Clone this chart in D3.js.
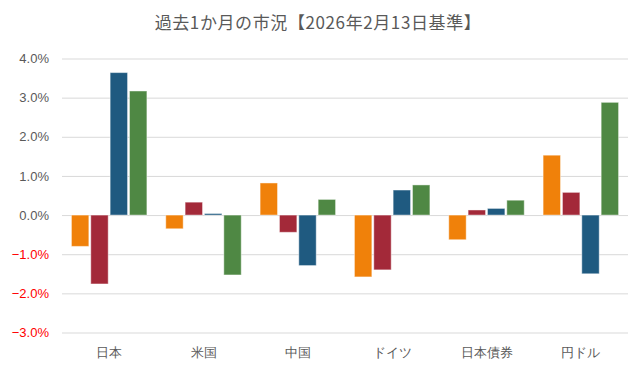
<!DOCTYPE html>
<html><head><meta charset="utf-8">
<script src="https://cdn.jsdelivr.net/npm/d3@7"></script>
<style>body{margin:0;background:#fff;}svg{display:block;font-family:"Noto Sans CJK JP","Noto Sans",sans-serif;}</style>
</head><body>
<svg id="c" width="643" height="376"></svg>
<script>
const title = "過去1か月の市況【2026年2月13日基準】";
const categories = ["日本","米国","中国","ドイツ","日本債券","円ドル"];
const seriesNames = ["s1","s2","s3","s4"];
const seriesColors = ["#F0810A","#A32939","#1F5A80","#4F8844"];
const s1 = [-0.80,-0.35,0.82,-1.58,-0.63,1.53];
const s2 = [-1.76,0.33,-0.44,-1.40,0.13,0.58];
const s3 = [3.64,0.04,-1.29,0.64,0.17,-1.50];
const s4 = [3.17,-1.53,0.40,0.77,0.38,2.88];
const seriesValues = [s1,s2,s3,s4];
const yTicks = [-3,-2,-1,0,1,2,3,4];

const svg = d3.select("#c");
const m = {l:62, r:15, t:58.5, b:43.5};
const W = 643, H = 376;
const x0 = d3.scaleBand().domain(categories).range([m.l, W-m.r]).paddingInner(0.2).paddingOuter(0.1);
const x1 = d3.scaleBand().domain(seriesNames).range([0, x0.bandwidth()]).paddingInner(0.1);
const y = d3.scaleLinear().domain([-3,4]).range([H-m.b, m.t]);

svg.append("text").attr("x", 318).attr("y", 29).attr("text-anchor","middle")
  .attr("font-size", 17).attr("letter-spacing", 0.6).attr("fill","#595959").text(title);

const yAxis = svg.append("g").attr("transform", `translate(${m.l},0)`)
  .call(d3.axisLeft(y).tickValues(yTicks).tickSize(-(W-m.l-m.r)).tickFormat(d => d3.format(".1f")(d)+"%"));
yAxis.select(".domain").remove();
yAxis.selectAll(".tick line").attr("stroke","#D9D9D9").attr("stroke-width",1);
yAxis.selectAll(".tick text").attr("x",-13).attr("font-size",13)
  .attr("fill", d => d < 0 ? "#FF0000" : "#595959");

const g = svg.append("g");
categories.forEach((c, i) => {
  seriesNames.forEach((s, j) => {
    const v = seriesValues[j][i];
    g.append("rect")
      .attr("x", x0(c) + x1(s))
      .attr("width", x1.bandwidth())
      .attr("y", y(Math.max(0, v)))
      .attr("height", Math.abs(y(v) - y(0)))
      .attr("fill", seriesColors[j])
      .attr("stroke", "rgba(255,255,255,0.45)").attr("stroke-width", 1);
  });
});

const xAxis = svg.append("g").attr("transform", `translate(0,${H-m.b})`)
  .call(d3.axisBottom(x0).tickSize(0));
xAxis.select(".domain").remove();
xAxis.selectAll(".tick text").attr("dy", "1.65em").attr("font-size", 13).attr("fill","#595959");
</script>
</body></html>
